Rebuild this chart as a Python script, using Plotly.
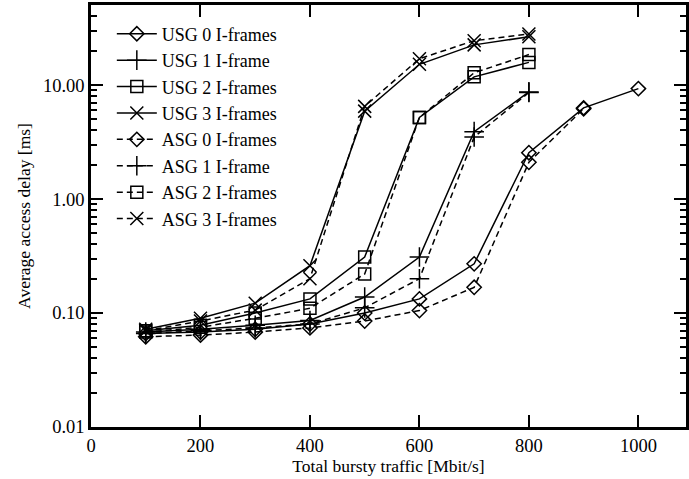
import plotly.graph_objects as go

# ---- data ----
x_usg0 = [100, 200, 300, 400, 500, 600, 700, 800, 900, 1000]
x_asg0 = [100, 200, 300, 400, 500, 600, 700, 800, 900]
x_rest = [100, 200, 300, 400, 500, 600, 700, 800]

usg0 = [0.066, 0.068, 0.072, 0.080, 0.100, 0.133, 0.27, 2.55, 6.3, 9.3]
asg0 = [0.062, 0.064, 0.068, 0.074, 0.085, 0.105, 0.168, 2.1, 6.2]
usg1 = [0.068, 0.072, 0.078, 0.086, 0.138, 0.31, 3.9, 8.7]
asg1 = [0.066, 0.070, 0.074, 0.080, 0.111, 0.20, 3.5, 8.6]
usg2 = [0.070, 0.078, 0.100, 0.133, 0.31, 5.2, 11.8, 15.8]
asg2 = [0.068, 0.075, 0.090, 0.110, 0.22, 5.2, 12.8, 18.5]
usg3 = [0.072, 0.090, 0.122, 0.26, 5.9, 15.2, 22.5, 26.5]
asg3 = [0.070, 0.085, 0.106, 0.20, 6.5, 17.0, 24.5, 28.0]

names = ["USG 0 I-frames", "USG 1 I-frame", "USG 2 I-frames", "USG 3 I-frames",
         "ASG 0 I-frames", "ASG 1 I-frame", "ASG 2 I-frames", "ASG 3 I-frames"]

y_tickvals = [0.01, 0.1, 1, 10]
x_tickvals = [0, 200, 400, 600, 800, 1000]

series = [
    (x_usg0, usg0, "diamond-open", "solid", 11),
    (x_rest, usg1, "cross-thin-open", "solid", 14),
    (x_rest, usg2, "square-open", "solid", 12),
    (x_rest, usg3, "x-thin-open", "solid", 13),
    (x_asg0, asg0, "diamond-open", "6px,4px", 11),
    (x_rest, asg1, "cross-thin-open", "6px,4px", 14),
    (x_rest, asg2, "square-open", "6px,4px", 12),
    (x_rest, asg3, "x-thin-open", "6px,4px", 13),
]

fig = go.Figure()
for (xs, ys, sym, dash, size), name in zip(series, names):
    fig.add_trace(go.Scatter(
        x=xs, y=ys, name=name, mode="lines+markers",
        line=dict(color="black", width=1.5, dash=dash),
        marker=dict(symbol=sym, size=size, color="black",
                    line=dict(color="black", width=1.5)),
    ))

font = "Liberation Serif, Times New Roman, serif"
fig.update_layout(
    width=689, height=479,
    margin=dict(l=91, r=0, t=5, b=52),
    paper_bgcolor="white", plot_bgcolor="white",
    font=dict(family=font, size=18, color="black"),
    showlegend=True,
    legend=dict(x=0.035, y=0.975, xanchor="left", yanchor="top",
                bgcolor="rgba(255,255,255,0)", borderwidth=0,
                font=dict(family=font, size=18, color="black"),
                tracegroupgap=0, itemwidth=40),
)
fig.update_xaxes(
    range=[0, 1087], tickvals=x_tickvals, ticks="inside", ticklen=12,
    tickwidth=2, tickcolor="black", showline=True, linewidth=2.5,
    linecolor="black", mirror="ticks", showgrid=False, zeroline=False,
    title=dict(text="Total bursty traffic [Mbit/s]", standoff=4,
               font=dict(size=17.5)),
    tickfont=dict(size=18.5),
)
fig.update_yaxes(
    type="log", range=[-2, 1.702], tickvals=y_tickvals, tickformat=".2f",
    ticks="inside", ticklen=12, tickwidth=2, tickcolor="black",
    showline=True, linewidth=2.5, linecolor="black", mirror="ticks",
    showgrid=False, zeroline=False,
    minor=dict(ticks="inside", ticklen=6, tickwidth=2, tickcolor="black",
               dtick="D1", showgrid=False),
    title=dict(text="Average access delay [ms]", standoff=8,
               font=dict(size=17.5)),
    tickfont=dict(size=18.5),
)

fig.write_html("out.html")
